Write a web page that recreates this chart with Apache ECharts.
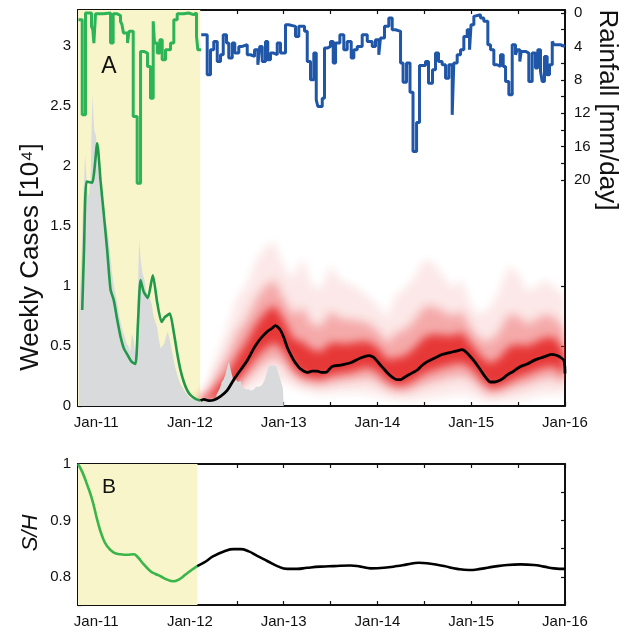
<!DOCTYPE html>
<html>
<head>
<meta charset="utf-8">
<script src="https://cdn.jsdelivr.net/npm/echarts@6/dist/echarts.min.js"></script>
<style>
  html, body { margin: 0; padding: 0; background: #fff; }
  #chart { width: 628px; height: 635px; }
</style>
</head>
<body>
<div id="chart"></div>
<script>
// ---- time frame (decimal years) ----
const xStart = 2010.806;
const xEnd = 2016.0;
const yearTicks = [2011, 2012, 2013, 2014, 2015, 2016];
const halfYearTicks = [2011, 2011.5, 2012, 2012.5, 2013, 2013.5, 2014, 2014.5, 2015, 2015.5, 2016];
const fitEndA = 2012.11;   // end of the calibration window, panel A
const fitEndB = 2012.08;   // end of the calibration window, panel B

// ---- tick labels ----
const casesTicks = [0, 0.5, 1, 1.5, 2, 2.5, 3];
const rainLabelTicks = [0, 4, 8, 12, 16, 20];
const rainMinorTicks = [0, 2, 4, 6, 8, 10, 12, 14, 16, 18, 20];
const shLabelTicks = [0.8, 0.9, 1];
const shMinorTicks = [0.75, 0.8, 0.85, 0.9, 0.95, 1];

// ---- reported weekly cases [10^4], one value per week ----
const obsStart = 2010.806;
const obsStep = 1 / 52.18;
const obsCases = [0.8, 0.9, 1.3, 1.75, 2.1, 1.8, 1.75, 1.9, 2.6, 2.3,
  2.25, 2.0, 1.85, 1.75, 1.65, 1.55, 1.5, 1.4, 1.25, 1.1,
  1.0, 0.92, 0.85, 0.75, 0.68, 0.62, 0.58, 0.52, 0.5, 0.45,
  0.6, 0.55, 0.42, 0.75, 1.38, 1.2, 1.1, 1.05, 0.95, 0.92,
  0.9, 0.85, 0.75, 0.7, 0.66, 0.55, 0.48, 0.5, 0.52, 0.58,
  0.62, 0.55, 0.48, 0.4, 0.33, 0.27, 0.22, 0.18, 0.16, 0.13,
  0.11, 0.09, 0.07, 0.06, 0.05, 0.05, 0.04, 0.04, 0.03, 0.04,
  0.04, 0.05, 0.05, 0.06, 0.06, 0.06, 0.07, 0.09, 0.12, 0.15,
  0.2, 0.22, 0.26, 0.32, 0.37, 0.3, 0.24, 0.2, 0.22, 0.2,
  0.21, 0.17, 0.15, 0.14, 0.14, 0.13, 0.13, 0.14, 0.15, 0.16,
  0.16, 0.17, 0.17, 0.19, 0.22, 0.27, 0.33, 0.34, 0.34, 0.35,
  0.33, 0.3, 0.25, 0.2, 0.15];

// ---- model fit over the calibration window ----
const fitDates = [2010.851, 2010.870, 2010.897, 2010.957, 2011.011, 2011.046, 2011.081, 2011.117, 2011.153, 2011.188,
  2011.224, 2011.259, 2011.295, 2011.331, 2011.377, 2011.419, 2011.446, 2011.473, 2011.508, 2011.551,
  2011.604, 2011.651, 2011.697, 2011.732, 2011.785, 2011.828, 2011.864, 2011.899, 2011.935, 2011.971,
  2012.006, 2012.059, 2012.113];
const fitCases = [0.8, 1.3, 1.87, 1.86, 2.19, 1.88, 1.6, 1.3, 0.97, 0.88,
  0.72, 0.58, 0.48, 0.43, 0.37, 0.35, 0.7, 1.05, 0.95, 0.9,
  1.09, 0.86, 0.7, 0.74, 0.77, 0.61, 0.44, 0.3, 0.2, 0.13,
  0.09, 0.06, 0.045];

// ---- projection: ensemble median ----
const medDates = [2012.113, 2012.148, 2012.201, 2012.255, 2012.326, 2012.397, 2012.468, 2012.539, 2012.611, 2012.681,
  2012.731, 2012.774, 2012.824, 2012.870, 2012.913, 2012.934, 2012.966, 2013.001, 2013.037, 2013.073,
  2013.108, 2013.144, 2013.179, 2013.250, 2013.304, 2013.357, 2013.403, 2013.446, 2013.517, 2013.606,
  2013.712, 2013.819, 2013.908, 2013.947, 2013.979, 2014.022, 2014.068, 2014.113, 2014.157, 2014.203,
  2014.246, 2014.289, 2014.334, 2014.379, 2014.424, 2014.477, 2014.531, 2014.584, 2014.637, 2014.690,
  2014.744, 2014.797, 2014.850, 2014.904, 2014.944, 2014.992, 2015.046, 2015.099, 2015.152, 2015.206,
  2015.248, 2015.294, 2015.339, 2015.384, 2015.451, 2015.526, 2015.597, 2015.668, 2015.739, 2015.811,
  2015.857, 2015.899, 2015.942, 2015.988, 2016.0];
const medCases = [0.045, 0.056, 0.044, 0.05, 0.08, 0.13, 0.22, 0.3, 0.38, 0.48,
  0.54, 0.58, 0.62, 0.645, 0.67, 0.66, 0.63, 0.57, 0.49, 0.43,
  0.38, 0.34, 0.31, 0.28, 0.29, 0.29, 0.28, 0.28, 0.33, 0.34,
  0.36, 0.4, 0.42, 0.41, 0.39, 0.35, 0.31, 0.27, 0.24, 0.22,
  0.22, 0.24, 0.26, 0.28, 0.3, 0.34, 0.37, 0.39, 0.41, 0.43,
  0.44, 0.45, 0.46, 0.47, 0.45, 0.41, 0.36, 0.3, 0.24, 0.2,
  0.2, 0.21, 0.23, 0.26, 0.29, 0.33, 0.35, 0.38, 0.4, 0.42,
  0.43, 0.425, 0.41, 0.38, 0.27];

// ---- projection: ensemble envelopes (outer, middle, inner) ----
const ensDates = [2012.1, 2012.2, 2012.3, 2012.4, 2012.5, 2012.6, 2012.7, 2012.8, 2012.9,
  2013.0, 2013.1, 2013.2, 2013.3, 2013.4, 2013.5, 2013.6, 2013.7, 2013.8, 2013.9,
  2014.0, 2014.1, 2014.2, 2014.3, 2014.4, 2014.5, 2014.6, 2014.7, 2014.8, 2014.9,
  2015.0, 2015.1, 2015.2, 2015.3, 2015.4, 2015.5, 2015.6, 2015.7, 2015.8, 2015.9, 2016.0];
const ensHi1 = [0.08, 0.2, 0.45, 0.65, 0.9, 1.0, 1.2, 1.32, 1.37, 1.16, 1.06, 1.24, 1.0, 0.98, 1.17, 1.05, 1.02, 0.97, 0.91, 0.84,
  0.74, 0.93, 0.98, 1.08, 1.22, 1.19, 1.08, 0.99, 1.05, 0.83, 0.76, 0.82, 0.96, 1.17, 1.1, 0.95, 1.0, 1.05, 0.98, 0.91];
const ensLo1 = [0.02, 0.02, 0.03, 0.05, 0.08, 0.12, 0.16, 0.2, 0.22, 0.2, 0.16, 0.13, 0.11, 0.1, 0.1, 0.11, 0.11, 0.11, 0.1, 0.09,
  0.07, 0.05, 0.05, 0.05, 0.06, 0.07, 0.08, 0.1, 0.1, 0.09, 0.05, 0.035, 0.04, 0.045, 0.05, 0.07, 0.09, 0.1, 0.1, 0.1];
const ensHi2 = [0.064, 0.13, 0.288, 0.418, 0.61, 0.72, 0.885, 1.0, 1.05, 0.895, 0.76, 0.82, 0.68, 0.665, 0.79, 0.73, 0.72, 0.71, 0.69, 0.63,
  0.53, 0.61, 0.64, 0.72, 0.83, 0.83, 0.79, 0.75, 0.79, 0.64, 0.55, 0.54, 0.62, 0.765, 0.75, 0.68, 0.725, 0.765, 0.73, 0.635];
const ensLo2 = [0.03, 0.03, 0.054, 0.084, 0.148, 0.22, 0.296, 0.36, 0.4, 0.35, 0.25, 0.2, 0.18, 0.17, 0.19, 0.2, 0.21, 0.22, 0.23, 0.2,
  0.15, 0.12, 0.12, 0.145, 0.18, 0.2, 0.22, 0.24, 0.25, 0.22, 0.15, 0.1, 0.11, 0.135, 0.16, 0.18, 0.21, 0.23, 0.23, 0.18];
const ensHi3 = [0.054, 0.084, 0.18, 0.264, 0.41, 0.53, 0.675, 0.78, 0.84, 0.72, 0.56, 0.535, 0.47, 0.455, 0.53, 0.52, 0.52, 0.535, 0.54, 0.49,
  0.39, 0.4, 0.42, 0.49, 0.575, 0.6, 0.59, 0.585, 0.615, 0.515, 0.415, 0.355, 0.4, 0.495, 0.515, 0.5, 0.54, 0.575, 0.565, 0.45];
const ensLo3 = [0.038, 0.038, 0.072, 0.11, 0.2, 0.295, 0.4, 0.48, 0.53, 0.46, 0.32, 0.25, 0.235, 0.225, 0.255, 0.27, 0.28, 0.305, 0.325, 0.285,
  0.21, 0.17, 0.175, 0.22, 0.27, 0.3, 0.325, 0.345, 0.36, 0.315, 0.225, 0.15, 0.16, 0.2, 0.24, 0.265, 0.3, 0.325, 0.33, 0.24];

// ---- rainfall [mm/day], value holds from its date to the next ----
const rainFitDates = [2010.811, 2010.851, 2010.886, 2010.950, 2010.964, 2010.975, 2010.993, 2011.078, 2011.153, 2011.181,
  2011.224, 2011.259, 2011.275, 2011.291, 2011.334, 2011.350, 2011.395, 2011.437, 2011.473, 2011.508,
  2011.547, 2011.579, 2011.608, 2011.622, 2011.651, 2011.679, 2011.704, 2011.739, 2011.793, 2011.828,
  2011.864, 2011.935, 2011.985, 2012.038, 2012.070, 2012.084, 2012.120];
const rainFitValues = [0.8, 12.2, 0.0, 1.6, 2.0, 3.6, 0.1, 0.0, 3.6, 0.1,
  0.3, 1.0, 1.4, 2.4, 3.6, 2.2, 12.4, 20.4, 4.6, 4.8,
  6.4, 10.2, 1.0, 3.6, 4.8, 3.2, 5.6, 4.4, 3.6, 0.8,
  0.1, 0.0, 0.2, 0.0, 2.8, 4.4, 4.4];
const rainDates = [2012.120, 2012.184, 2012.219, 2012.254, 2012.291, 2012.326, 2012.355, 2012.390, 2012.414, 2012.451,
  2012.478, 2012.521, 2012.557, 2012.611, 2012.646, 2012.689, 2012.724, 2012.745, 2012.771, 2012.806,
  2012.830, 2012.859, 2012.894, 2012.931, 2012.966, 2013.019, 2013.054, 2013.126, 2013.161, 2013.222,
  2013.251, 2013.286, 2013.321, 2013.347, 2013.364, 2013.411, 2013.435, 2013.464, 2013.499, 2013.528,
  2013.553, 2013.599, 2013.641, 2013.677, 2013.720, 2013.748, 2013.784, 2013.837, 2013.891, 2013.944,
  2013.979, 2014.014, 2014.032, 2014.075, 2014.121, 2014.157, 2014.193, 2014.246, 2014.273, 2014.310,
  2014.347, 2014.379, 2014.417, 2014.448, 2014.512, 2014.544, 2014.587, 2014.619, 2014.651, 2014.690,
  2014.726, 2014.761, 2014.797, 2014.814, 2014.850, 2014.886, 2014.921, 2014.957, 2014.982, 2014.998,
  2015.028, 2015.046, 2015.099, 2015.134, 2015.177, 2015.206, 2015.241, 2015.277, 2015.312, 2015.341,
  2015.366, 2015.401, 2015.437, 2015.472, 2015.490, 2015.518, 2015.533, 2015.579, 2015.614, 2015.650,
  2015.685, 2015.710, 2015.739, 2015.757, 2015.781, 2015.810, 2015.835, 2015.864, 2015.881, 2015.952,
  2016.0];
const rainValues = [2.6, 7.4, 4.4, 3.4, 5.8, 5.0, 2.6, 3.6, 5.4, 3.6,
  4.8, 4.0, 3.8, 5.0, 5.2, 4.4, 6.2, 4.0, 5.8, 3.4,
  5.6, 4.8, 5.0, 3.6, 4.8, 1.4, 1.6, 2.8, 1.6, 2.2,
  5.8, 8.0, 4.8, 10.4, 11.2, 10.2, 4.2, 4.0, 3.4, 6.0,
  3.6, 2.6, 4.4, 3.4, 5.4, 4.4, 4.0, 2.6, 3.4, 4.0,
  3.2, 5.0, 3.0, 1.6, 0.6, 2.0, 2.2, 6.0, 8.3, 6.0,
  9.5, 16.6, 13.1, 6.3, 5.8, 8.4, 6.8, 4.8, 5.8, 6.2,
  7.8, 6.2, 12.2, 6.0, 5.0, 4.4, 2.8, 2.0, 4.4, 1.4,
  0.4, 0.2, 0.6, 1.0, 3.8, 4.4, 6.2, 6.4, 5.0, 6.4,
  8.2, 9.8, 3.8, 5.0, 4.4, 5.8, 4.6, 4.8, 8.2, 4.8,
  6.6, 4.4, 7.0, 8.2, 5.2, 7.4, 6.2, 3.4, 3.8, 4.0,
  4.0];

// ---- susceptible fraction S/H ----
const shFitDates = [2010.806, 2010.851, 2010.904, 2010.957, 2011.011, 2011.064, 2011.117, 2011.188, 2011.259, 2011.331,
  2011.401, 2011.437, 2011.508, 2011.579, 2011.633, 2011.686, 2011.757, 2011.821, 2011.881, 2011.953,
  2012.024, 2012.077];
const shFit = [1.0, 0.986, 0.963, 0.937, 0.901, 0.872, 0.854, 0.843, 0.84, 0.839,
  0.84, 0.836, 0.822, 0.81, 0.805, 0.801, 0.795, 0.792, 0.795, 0.804,
  0.813, 0.819];
const shDates = [2012.077, 2012.148, 2012.254, 2012.361, 2012.468, 2012.539, 2012.628, 2012.717, 2012.824, 2012.931,
  2013.037, 2013.144, 2013.251, 2013.393, 2013.534, 2013.712, 2013.819, 2013.926, 2014.068, 2014.211,
  2014.317, 2014.441, 2014.566, 2014.708, 2014.850, 2014.974, 2015.099, 2015.241, 2015.384, 2015.526,
  2015.668, 2015.775, 2015.881, 2016.0];
const shModel = [0.819, 0.825, 0.837, 0.845, 0.849, 0.849, 0.845, 0.837, 0.828, 0.819,
  0.814, 0.814, 0.816, 0.818, 0.819, 0.82, 0.818, 0.815, 0.816, 0.819,
  0.822, 0.825, 0.823, 0.819, 0.814, 0.812, 0.814, 0.818, 0.821, 0.822,
  0.821, 0.818, 0.815, 0.814];

// ---------------------------------------------------------------
const FONT = '"Liberation Sans", Arial, Helvetica, sans-serif';
const INK = '#111';
const pairs = (xs, ys) => xs.map((x, i) => [x, ys[i]]);
const tickLabel = { fontSize: 15, color: INK, fontFamily: FONT };

function timeAxis(grid, pos, withLabels) {
  return {
    type: 'value', gridIndex: grid, position: pos, min: xStart, max: xEnd,
    axisLine: { show: true, onZero: false, lineStyle: { color: INK, width: 2 } },
    axisTick: { show: true, inside: true, length: 4, customValues: halfYearTicks, lineStyle: { color: INK, width: 1.2 } },
    axisLabel: withLabels
      ? Object.assign({ show: true, margin: 9, customValues: yearTicks,
          formatter: v => 'Jan-' + String(Math.round(v)).slice(2) }, tickLabel)
      : { show: false },
    splitLine: { show: false }
  };
}

function valueAxis(grid, pos, min, max, ticks, labels, extra) {
  return Object.assign({
    type: 'value', gridIndex: grid, position: pos, min: min, max: max,
    axisLine: { show: true, onZero: false, lineStyle: { color: INK, width: 2 } },
    axisTick: { show: !!ticks, inside: true, length: 4, customValues: ticks || [], lineStyle: { color: INK, width: 1.2 } },
    axisLabel: labels
      ? Object.assign({ show: true, margin: 7, customValues: labels,
          formatter: v => String(+(+v).toFixed(2)) }, tickLabel)
      : { show: false },
    splitLine: { show: false }
  }, extra || {});
}

// One ensemble envelope, filled as a single polygon between its lower and upper bounds.
// The polygon itself is moved off to the side and only its blurred shadow lands in the
// plot, which gives the percentile shading its soft edges.
const SHIFT = 3000;
function band(lo, hi, alpha, blur) {
  return {
    type: 'custom', xAxisIndex: 0, yAxisIndex: 0, z: 2, silent: true, clip: true,
    data: ensDates.map((d, i) => [d, lo[i], hi[i]]),
    encode: { x: 0, y: [1, 2] },
    renderItem: function (params, api) {
      if (params.dataIndexInside !== 0) return null;
      const n = params.dataInsideLength;
      const upper = [], lower = [];
      for (let j = 0; j < n; j++) {
        const x = api.value(0, j);
        const pu = api.coord([x, api.value(2, j)]);
        const pl = api.coord([x, api.value(1, j)]);
        upper.push([pu[0] - SHIFT, pu[1]]);
        lower.push([pl[0] - SHIFT, pl[1]]);
      }
      return {
        type: 'polygon',
        shape: { points: upper.concat(lower.reverse()) },
        style: { fill: '#e41c1c', opacity: alpha, stroke: null,
          shadowBlur: blur, shadowColor: '#e41c1c', shadowOffsetX: SHIFT, shadowOffsetY: 0 }
      };
    }
  };
}

const chart = echarts.init(document.getElementById('chart'), null, { renderer: 'canvas' });

const option = {
  animation: false,
  backgroundColor: '#fff',
  textStyle: { fontFamily: FONT },
  grid: [
    { left: 78, top: 10, width: 487, height: 396 },
    { left: 78, top: 464, width: 487, height: 141 }
  ],
  xAxis: [
    timeAxis(0, 'bottom', true),
    timeAxis(0, 'top', false),
    timeAxis(1, 'bottom', true),
    timeAxis(1, 'top', false)
  ],
  yAxis: [
    valueAxis(0, 'left', 0, 3.3, casesTicks, casesTicks),
    valueAxis(0, 'right', -0.36, 47.07, rainMinorTicks, rainLabelTicks,
      { inverse: true, axisLabel: Object.assign({ show: true, margin: 9, customValues: rainLabelTicks }, tickLabel) }),
    valueAxis(0, 'right', 0, 3.3, [0.5, 1], null, { axisLine: { show: false } }),
    valueAxis(1, 'left', 0.75, 1, shMinorTicks, shLabelTicks),
    valueAxis(1, 'right', 0.75, 1, [0.8, 0.85, 0.9, 0.95], null)
  ],
  series: [
    // calibration window shading, panel A
    { type: 'line', xAxisIndex: 0, yAxisIndex: 0, data: [[xStart, 0]], symbol: 'none', z: 1,
      lineStyle: { width: 0 }, silent: true,
      markArea: { silent: true, itemStyle: { color: '#f7f5c9' }, data: [[{ xAxis: xStart }, { xAxis: fitEndA }]] } },
    band(ensLo1, ensHi1, 0.1, 8),
    band(ensLo2, ensHi2, 0.3, 10),
    band(ensLo3, ensHi3, 0.8, 8),
    // reported weekly cases
    { type: 'line', xAxisIndex: 0, yAxisIndex: 0, step: 'middle', symbol: 'none', z: 3, silent: true,
      data: obsCases.map((v, i) => [obsStart + (i + 0.5) * obsStep, v]),
      lineStyle: { width: 0 }, areaStyle: { color: '#d9dadc', opacity: 1 } },
    // model fit and projection median
    { type: 'line', xAxisIndex: 0, yAxisIndex: 0, symbol: 'none', z: 4, smooth: 0.2,
      data: pairs(fitDates, fitCases), lineStyle: { color: '#22994a', width: 2.6 } },
    { type: 'line', xAxisIndex: 0, yAxisIndex: 0, symbol: 'none', z: 4, smooth: 0.3,
      data: pairs(medDates, medCases), lineStyle: { color: '#000', width: 2.8 } },
    // rainfall on the inverted right axis
    { type: 'line', xAxisIndex: 0, yAxisIndex: 1, step: 'end', symbol: 'none', z: 5,
      data: pairs(rainFitDates, rainFitValues), lineStyle: { color: '#2cb457', width: 3 } },
    { type: 'line', xAxisIndex: 0, yAxisIndex: 1, step: 'end', symbol: 'none', z: 5,
      data: pairs(rainDates, rainValues), lineStyle: { color: '#1f56a8', width: 3 } },
    // panel B
    { type: 'line', xAxisIndex: 2, yAxisIndex: 3, data: [[xStart, 0.75]], symbol: 'none', z: 1,
      lineStyle: { width: 0 }, silent: true,
      markArea: { silent: true, itemStyle: { color: '#f7f5c9' }, data: [[{ xAxis: xStart }, { xAxis: fitEndB }]] } },
    { type: 'line', xAxisIndex: 2, yAxisIndex: 3, symbol: 'none', z: 4, smooth: true,
      data: pairs(shFitDates, shFit), lineStyle: { color: '#3ab54a', width: 2.6 } },
    { type: 'line', xAxisIndex: 2, yAxisIndex: 3, symbol: 'none', z: 4, smooth: true,
      data: pairs(shDates, shModel), lineStyle: { color: '#000', width: 2.6 } }
  ],
  graphic: [
    { type: 'text', x: 31, y: 257, rotation: Math.PI / 2,
      style: { text: 'Weekly Cases [10⁴]', font: '26px ' + FONT, fill: INK, align: 'center', verticalAlign: 'middle' } },
    { type: 'text', x: 607, y: 110, rotation: -Math.PI / 2,
      style: { text: 'Rainfall [mm/day]', font: '26px ' + FONT, fill: INK, align: 'center', verticalAlign: 'middle' } },
    { type: 'text', x: 31, y: 533, rotation: Math.PI / 2,
      style: { text: 'S/H', font: 'italic 22px ' + FONT, fill: INK, align: 'center', verticalAlign: 'middle' } },
    { type: 'text', x: 109, y: 67, z: 10,
      style: { text: 'A', font: '23px ' + FONT, fill: INK, align: 'center', verticalAlign: 'middle' } },
    { type: 'text', x: 109, y: 487, z: 10,
      style: { text: 'B', font: '21px ' + FONT, fill: INK, align: 'center', verticalAlign: 'middle' } }
  ]
};

chart.setOption(option);
</script>
</body>
</html>
